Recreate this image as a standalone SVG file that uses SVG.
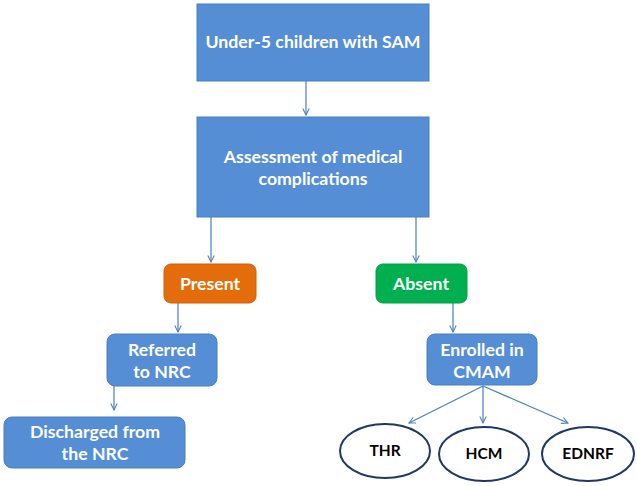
<svg xmlns="http://www.w3.org/2000/svg" width="637" height="486" viewBox="0 0 637 486">
<defs>
<style>
.box{fill:#558ED5;stroke:#4A7EBB;stroke-width:1}
.t{font-family:Lato,"Liberation Sans",sans-serif;font-weight:700;fill:#fff;text-anchor:middle;font-size:17.7px}
.tb{font-family:Lato,"Liberation Sans",sans-serif;font-weight:700;fill:#000;text-anchor:middle;font-size:15.5px}
.ell{fill:#fff;stroke:#1F3864;stroke-width:2}
.c{fill:none;stroke:#4A7EBB;stroke-width:1.2;marker-end:url(#ah)}
</style>
<marker id="ah" viewBox="0 0 10 10" refX="9" refY="5" markerWidth="8" markerHeight="8" markerUnits="userSpaceOnUse" orient="auto">
<path d="M1,1 L9,5 L1,9" fill="none" stroke="#4A7EBB" stroke-width="1.3"/>
</marker>
</defs>
<rect width="637" height="486" fill="#fff"/>
<g id="connectors">
<path class="c" d="M306,81 V115"/>
<path class="c" d="M211,217 V262"/>
<path class="c" d="M416,217 V262"/>
<path class="c" d="M178,303 V332"/>
<path class="c" d="M453,303 V332"/>
<path class="c" d="M114,386 V410"/>
<path class="c" d="M483,386 L409,423"/>
<path class="c" d="M483,386 V423"/>
<path class="c" d="M483,386 L568,423"/>
</g>
<g id="n1">
<rect class="box" x="197" y="4" width="232" height="77"/>
<text class="t" x="313" y="48">Under-5 children with SAM</text>
</g>
<g id="n2">
<rect class="box" x="197" y="117" width="232" height="100"/>
<text class="t" x="313" y="163">Assessment of medical</text>
<text class="t" x="313" y="185">complications</text>
</g>
<g id="present">
<rect x="164" y="264" width="92" height="39" rx="7" fill="#E46C0A" stroke="#D0600A"/>
<text class="t" x="210" y="290">Present</text>
</g>
<g id="absent">
<rect x="376" y="264" width="91" height="39" rx="7" fill="#00B050" stroke="#00A048"/>
<text class="t" x="421" y="290">Absent</text>
</g>
<g id="referred">
<rect class="box" x="107" y="334" width="110" height="52" rx="8"/>
<text class="t" x="162" y="356">Referred</text>
<text class="t" x="162" y="378">to NRC</text>
</g>
<g id="enrolled">
<rect class="box" x="427" y="334" width="110" height="51" rx="8"/>
<text class="t" x="482" y="356">Enrolled in</text>
<text class="t" x="482" y="378">CMAM</text>
</g>
<g id="discharged">
<rect class="box" x="4" y="417" width="181" height="51" rx="8"/>
<text class="t" x="95" y="438">Discharged from</text>
<text class="t" x="95" y="460">the NRC</text>
</g>
<g id="thr">
<ellipse class="ell" cx="385" cy="451" rx="45" ry="27"/>
<text class="tb" x="385" y="456">THR</text>
</g>
<g id="hcm">
<ellipse class="ell" cx="484" cy="454" rx="45" ry="27"/>
<text class="tb" x="484" y="459">HCM</text>
</g>
<g id="ednrf">
<ellipse class="ell" cx="588" cy="454" rx="46" ry="27"/>
<text class="tb" x="588" y="459">EDNRF</text>
</g>
</svg>
